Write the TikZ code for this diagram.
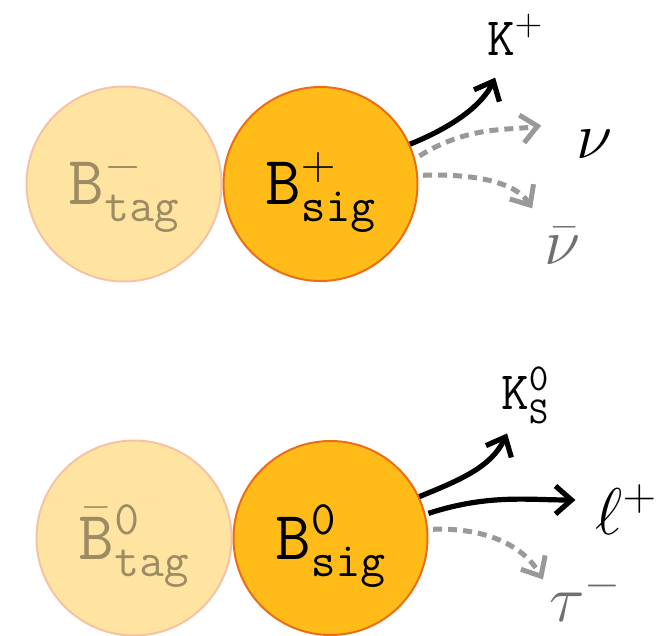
\RequirePackage{fix-cm}
\documentclass[tikz,border=0pt]{standalone}
\usetikzlibrary{arrows.meta,positioning}
\DeclareMathSizes{69}{69}{48}{35}
\DeclareMathSizes{54}{54}{38}{27}
\DeclareMathSizes{66}{66}{46}{33}
\definecolor{tagfill}{HTML}{FFE4A1}
\definecolor{tagline}{HTML}{F5C3A4}
\definecolor{tagtext}{HTML}{9C8B63}
\definecolor{sigfill}{HTML}{FFBC18}
\definecolor{sigline}{HTML}{EB6E16}
\definecolor{arrgray}{HTML}{999999}
\definecolor{gtext}{HTML}{707070}

\begin{document}
\begin{tikzpicture}[
  x=1pt,y=-1pt,
  tagball/.style={circle,draw=tagline,fill=tagfill,line width=2pt,minimum size=195pt,inner sep=0pt},
  sigball/.style={circle,draw=sigline,fill=sigfill,line width=2pt,minimum size=194pt,inner sep=0pt},
  tagtxt/.style={text=tagtext,font=\fontsize{69}{80}\selectfont},
  sigtxt/.style={text=black,font=\fontsize{69}{80}\selectfont},
  kaon/.style={font=\fontsize{54}{64}\selectfont,inner sep=2pt},
  lep/.style={font=\fontsize{66}{78}\selectfont,inner sep=2pt},
  fwd/.style={-{Straight Barb[length=16pt,width=28pt]},line width=5.2pt},
  miss/.style={-{Straight Barb[length=16pt,width=28pt]},line width=5pt,draw=arrgray,
    dash pattern=on 9pt off 6pt,shorten <=5pt}
]
  \useasboundingbox (0,0) rectangle (664,635);

  % charged pair
  \node[tagball] (tagp) at (124,184) {};
  \node[sigball, right=0pt of tagp] (sigp) {};
  \node[tagtxt] (tagptxt) at ([yshift=-8pt]tagp.center) {$\mathtt{B}^{-}_{\mathtt{tag}}$};
  \node[sigtxt] (sigptxt) at ([yshift=-8pt]sigp.center) {$\mathtt{B}^{+}_{\mathtt{sig}}$};
  \node[kaon] (kp) at (515,35) {$\mathtt{K}^{+}$};
  \node[lep] (nu) at (595,144) {$\nu$};
  \node[lep, text=gtext] (nubar) at (563,246) {$\bar{\nu}$};

  \draw[fwd, shorten >=22pt] (sigp.24) to[out=22,in=245] (kp);
  \draw[miss, shorten >=34pt] (sigp.15) to[out=32,in=190] ([yshift=8pt]nu.north west);
  \draw[miss, shorten >=20pt] (sigp.5) to[out=2,in=122] (nubar.north west);

  % neutral pair
  \node[tagball] (tagm) at (134,538) {};
  \node[sigball, right=0pt of tagm] (sigm) {};
  \node[tagtxt] (tagmtxt) at ([yshift=-8pt]tagm.center) {$\bar{\mathtt{B}}^{\mathtt{0}}_{\mathtt{tag}}$};
  \node[sigtxt] (sigmtxt) at ([yshift=-8pt]sigm.center) {$\mathtt{B}^{\mathtt{0}}_{\mathtt{sig}}$};
  \node[kaon] (ks) at (525,395) {$\mathtt{K}^{\mathtt{0}}_{\mathtt{S}}$};
  \node[lep] (lp) at (626,510) {$\ell^{+}$};
  \node[lep, text=gtext] (tau) at (585,596) {$\tau^{-}$};

  \draw[fwd, shorten >=9pt] (sigm.25) to[out=22,in=245] (ks);
  \draw[fwd, shorten <=3pt, shorten >=18pt] (sigm.14) to[out=18,in=180] ([yshift=10pt]lp.west);
  \draw[miss, shorten >=8pt] (sigm.5) to[out=2,in=120] ([yshift=-18pt]tau.north west);
\end{tikzpicture}
\end{document}
